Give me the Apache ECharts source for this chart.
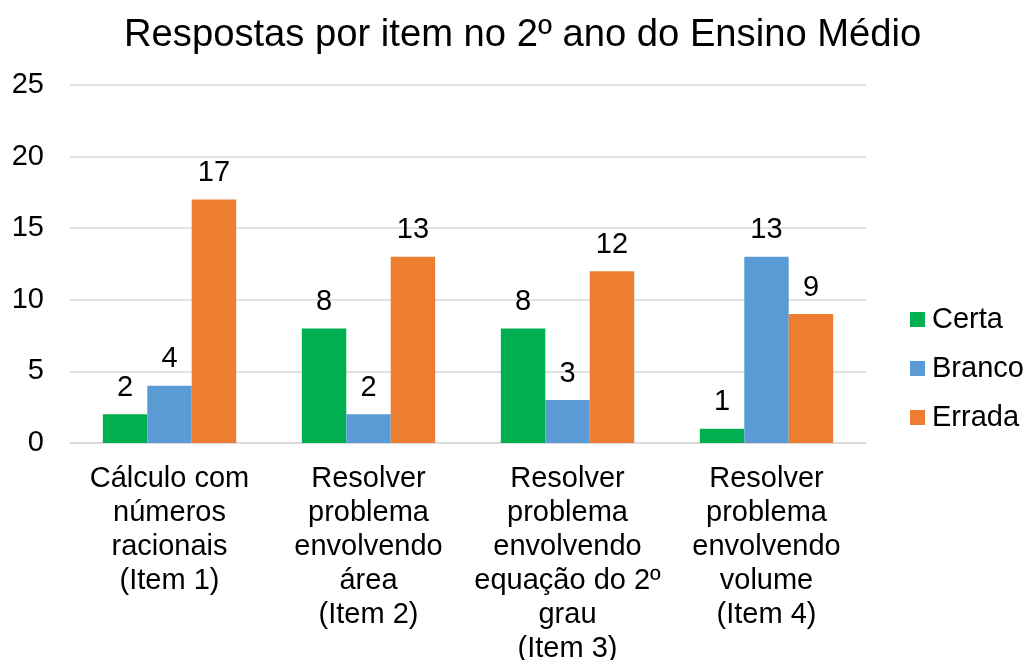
<!DOCTYPE html>
<html>
<head>
<meta charset="utf-8">
<script src="https://cdn.jsdelivr.net/npm/echarts@6/dist/echarts.min.js"></script>
<style>
html,body{margin:0;padding:0;background:#fff;}
#chart{width:1025px;height:660px;}
</style>
</head>
<body>
<div id="chart"></div>
<script>
const titleText = 'Respostas por item no 2º ano do Ensino Médio';
const categories = [
  'Cálculo com\nnúmeros\nracionais\n(Item 1)',
  'Resolver\nproblema\nenvolvendo\nárea\n(Item 2)',
  'Resolver\nproblema\nenvolvendo\nequação do 2º\ngrau\n(Item 3)',
  'Resolver\nproblema\nenvolvendo\nvolume\n(Item 4)'
];
const seriesNames = ['Certa', 'Branco', 'Errada'];
const certa = [2, 8, 8, 1];
const branco = [4, 2, 3, 13];
const errada = [17, 13, 12, 9];
const colors = ['#00B050', '#5B9BD5', '#ED7D31'];

const font = 'Liberation Sans, Arial, sans-serif';
const chart = echarts.init(document.getElementById('chart'), null, {renderer: 'canvas'});
const values = [certa, branco, errada];
chart.setOption({
  backgroundColor: '#ffffff',
  animation: false,
  color: colors,
  title: {
    text: titleText,
    left: 119,
    top: 11,
    textStyle: {fontFamily: font, fontSize: 38.2, fontWeight: 'normal', color: '#000'}
  },
  legend: {
    orient: 'vertical',
    left: 905,
    top: 300,
    itemWidth: 15,
    itemHeight: 15,
    itemGap: 20,
    icon: 'rect',
    textStyle: {fontFamily: font, fontSize: 29, color: '#000', padding: [0, 0, 0, 2]},
    data: seriesNames
  },
  grid: {left: 70, right: 159, top: 85, bottom: 217, containLabel: false, outerBoundsMode: 'none'},
  xAxis: {
    type: 'category',
    data: categories,
    axisLine: {lineStyle: {color: '#D9D9D9', width: 1.5}},
    axisTick: {show: false},
    axisLabel: {fontFamily: font, fontSize: 29, color: '#000', lineHeight: 34, margin: 19, interval: 0}
  },
  yAxis: {
    type: 'value',
    min: 0,
    max: 25,
    interval: 5,
    axisLine: {show: false},
    axisTick: {show: false},
    splitLine: {lineStyle: {color: '#D9D9D9', width: 1.5}},
    axisLabel: {fontFamily: font, fontSize: 29, color: '#000', margin: 26}
  },
  series: seriesNames.map((n, i) => ({
    name: n,
    type: 'bar',
    data: values[i],
    barGap: '0%',
    barCategoryGap: '33%',
    label: {show: true, position: 'top', distance: 12, fontFamily: font, fontSize: 29, color: '#000'}
  }))
});
</script>
</body>
</html>
